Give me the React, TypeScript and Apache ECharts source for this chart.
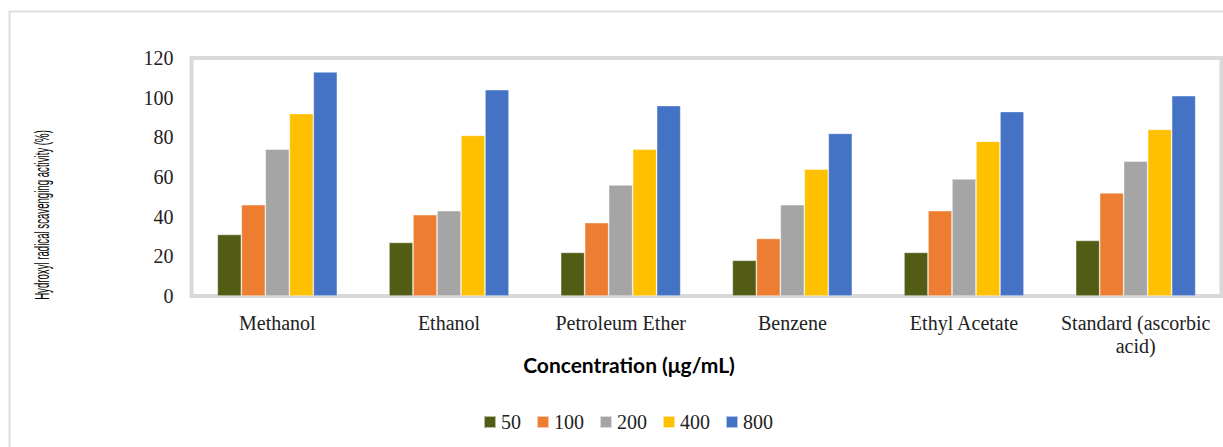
import React, { useEffect, useRef } from "react";
import * as echarts from "echarts";

const categories = ["Methanol", "Ethanol", "Petroleum Ether", "Benzene", "Ethyl Acetate", "Standard (ascorbic\nacid)"];
const seriesNames = ["50", "100", "200", "400", "800"];
const s50 = [31, 27, 22, 18, 22, 28];
const s100 = [46, 41, 37, 29, 43, 52];
const s200 = [74, 43, 56, 46, 59, 68];
const s400 = [92, 81, 74, 64, 78, 84];
const s800 = [113, 104, 96, 82, 93, 101];
const seriesValues = [s50, s100, s200, s400, s800];
const colors = ["#525c14", "#ed7d31", "#a5a5a5", "#ffc000", "#4472c4"];
const yTitle = "Hydroxyl radical scavenging activity (%)";
const xTitle = "Concentration (μg/mL)";

function measure(text: string, font: string): number {
  const c = document.createElement("canvas");
  const ctx = c.getContext("2d");
  if (!ctx) return text.length * 8;
  ctx.font = font;
  return ctx.measureText(text).width;
}

export default function App() {
  const ref = useRef<HTMLDivElement>(null);
  useEffect(() => {
    if (!ref.current) return;
    const chart = echarts.init(ref.current, undefined, { renderer: "svg" });
    const yFont = "20px 'Liberation Sans'";
    const yW = measure(yTitle, yFont);
    const yScale = 170 / yW;
    const serif = "'Liberation Serif', 'Times New Roman', serif";
    chart.setOption({
      animation: false,
      backgroundColor: "#fff",
      textStyle: { fontFamily: serif },
      grid: {
        left: 191.5,
        right: 1.5,
        top: 58,
        bottom: 151,
        show: true,
        borderColor: "#d9d9d9",
        borderWidth: 4,
        backgroundColor: "transparent",
      },
      legend: {
        left: 483,
        top: 412,
        padding: 0,
        itemWidth: 12,
        itemHeight: 12,
        itemGap: 15,
        icon: "rect",
        textStyle: { fontFamily: serif, fontSize: 20, color: "#222", fontWeight: "normal" },
        data: seriesNames,
      },
      xAxis: {
        type: "category",
        data: categories,
        axisLine: { show: false },
        axisTick: { show: false },
        axisLabel: {
          fontFamily: serif,
          fontSize: 20,
          color: "#222",
          margin: 15,
          lineHeight: 23,
          interval: 0,
        },
      },
      yAxis: {
        type: "value",
        min: 0,
        max: 120,
        interval: 20,
        axisLine: { show: false },
        axisTick: { show: false },
        splitLine: { show: false },
        axisLabel: {
          fontFamily: serif,
          fontSize: 20,
          color: "#222",
          margin: 18,
        },
      },
      series: seriesNames.map((n, i) => ({
        name: n,
        type: "bar",
        data: seriesValues[i],
        barWidth: 24,
        barGap: "0%",
        itemStyle: { color: colors[i], borderColor: "rgba(255,255,255,0.6)", borderWidth: 0.7 },
      })),
      graphic: [
        {
          type: "rect",
          silent: true,
          shape: { x: 9.5, y: 11.5, width: 1300, height: 500 },
          style: { fill: "none", stroke: "#dedede", lineWidth: 2 },
        },
        {
          type: "text",
          x: 629,
          y: 364,
          style: {
            text: xTitle,
            fontFamily: "Lato",
            fontWeight: "bold",
            fontSize: 21,
            fill: "#000",
            textAlign: "center",
            textVerticalAlign: "middle",
          },
        },
        {
          type: "text",
          x: 42,
          y: 215,
          rotation: Math.PI / 2,
          scaleX: yScale,
          scaleY: 1,
          style: {
            text: yTitle,
            fontFamily: "Liberation Sans",
            fontSize: 20,
            fill: "#000",
            textAlign: "center",
            textVerticalAlign: "middle",
          },
        },
      ],
    });
    return () => chart.dispose();
  }, []);
  return <div ref={ref} style={{ position: "absolute", left: 0, top: 0, width: 1223, height: 447 }} />;
}
